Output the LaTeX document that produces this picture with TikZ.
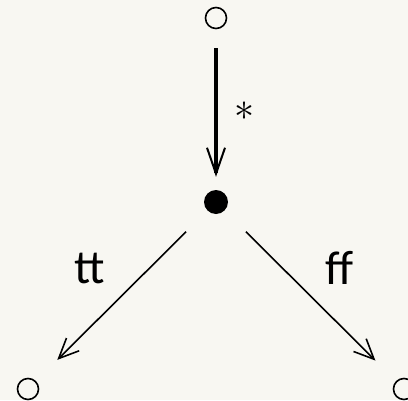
\documentclass[tikz,border=0pt]{standalone}
\usepackage{fontspec}
\usepackage{graphicx}
\setmainfont{Carlito}
\usetikzlibrary{arrows.meta}
\definecolor{paper}{HTML}{F8F7F2}
\tikzset{
  state/.style={circle,draw=black,line width=1.6pt,minimum size=21pt,inner sep=0pt},
  hub/.style={circle,fill=black,minimum size=24pt,inner sep=0pt},
  edge/.style={-{Straight Barb[length=20pt,width=18pt,line width=1.6pt]},line width=1.6pt},
  lbl/.style={font=\fontsize{48}{48}\selectfont}
}

\begin{document}
\begin{tikzpicture}[x=1pt,y=-1pt]
    \fill[paper] (0,0) rectangle (408,400);
    \useasboundingbox (0,0) rectangle (408,400);
    \node[state] (top) at (216,18) {};
    \node[hub] (mid) at (216,202) {};
    \node[state] (tt) at (28,389) {};
    \node[state] (ff) at (404,389) {};
    \draw[edge,line width=4.5pt,-{Straight Barb[length=26pt,width=18pt,line width=2pt]},shorten <=19pt,shorten >=13pt] (top) -- (mid);
    \draw[edge,shorten <=30pt,shorten >=30pt] (mid) -- (tt);
    \draw[edge,shorten <=30pt,shorten >=29pt] (mid) -- (ff);
    \node (star) at (244,111) {\scalebox{4}{$\ast$}};
    \node[lbl] (ltt) at (90,268) {tt};
    \node[lbl] (lff) at (340,268) {ff};
\end{tikzpicture}
\end{document}
